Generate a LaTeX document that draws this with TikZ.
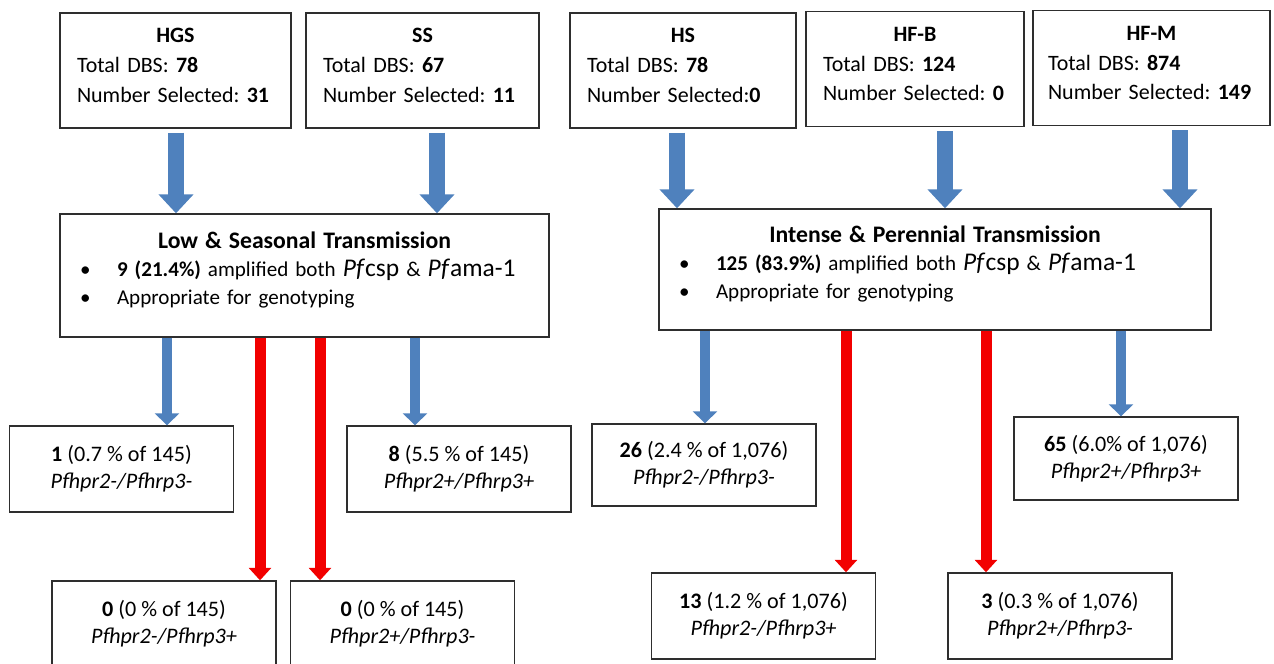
\documentclass[tikz,border=0pt]{standalone}
\usepackage{fontspec}
\setmainfont{Carlito}
\usetikzlibrary{arrows.meta}
\definecolor{flowblue}{HTML}{4F81BD}
\definecolor{flowred}{HTML}{F20000}
\definecolor{boxline}{HTML}{2E2E2E}
\frenchspacing
\newcommand{\pfgene}[1]{{\fontsize{14.5}{17}\selectfont\textit{Pf}#1}}
\newcommand{\blt}{\makebox[0.74cm][l]{\textbullet}}
\begin{document}
\begin{tikzpicture}[x=0.02cm, y=-0.02cm,
  every node/.style={font=\fontsize{12.5}{17}\selectfont},
  sitebox/.style={draw=boxline, line width=0.8pt, minimum height=2.3cm, inner xsep=0.34cm, align=left},
  zonebox/.style={draw=boxline, line width=0.8pt, inner xsep=0.4cm, align=left, font=\fontsize{12}{16}\selectfont},
  outbox/.style={draw=boxline, line width=0.8pt, minimum width=4.48cm, minimum height=1.72cm, align=center, font=\fontsize{12.6}{15.5}\selectfont},
  bigarr/.style={flowblue, line width=0.32cm, -{Triangle[width=0.68cm, length=0.38cm]}, shorten <=0.08cm},
  bluearr/.style={flowblue, line width=0.2cm, -{Triangle[width=0.48cm, length=0.24cm]}},
  redarr/.style={flowred, line width=0.22cm, -{Triangle[width=0.44cm, length=0.25cm]}}]
\useasboundingbox (0,0) rectangle (1274,663);
% sites:
\node[sitebox, text width=3.94cm] (hgs) at (175.5,70.5) {\makebox[3.94cm]{\bfseries HGS}\\Total DBS: \textbf{78}\\Number Selected: \textbf{31}\rule[-0.2cm]{0pt}{0pt}};
\node[sitebox, text width=3.98cm] (ss) at (422.5,70.5) {\makebox[3.98cm]{\bfseries SS}\\Total DBS: \textbf{67}\\Number Selected: \textbf{11}\rule[-0.2cm]{0pt}{0pt}};
\node[sitebox, text width=3.84cm] (hs) at (683,70.5) {\makebox[3.84cm]{\bfseries HS}\\Total DBS: \textbf{78}\\Number Selected:\textbf{0}\rule[-0.2cm]{0pt}{0pt}};
\node[sitebox, text width=3.68cm] (hfb) at (915,69) {\makebox[3.68cm]{\bfseries HF-B}\\Total DBS: \textbf{124}\\Number Selected: \textbf{0}\rule[-0.2cm]{0pt}{0pt}};
\node[sitebox, inner xsep=0.3cm, text width=4.14cm] (hfm) at (1151.5,68) {\makebox[4.14cm]{\bfseries HF-M}\\Total DBS: \textbf{874}\\Number Selected: \textbf{149}\rule[-0.2cm]{0pt}{0pt}};
% transmission zones:
\node[zonebox, text width=8.98cm, minimum height=2.46cm] (low) at (304.5,275.5)
  {\makebox[8.98cm]{\fontsize{13.5}{17}\selectfont\bfseries Low \& Seasonal Transmission}\\
   \blt\textbf{9 (21.4\%)} amplified both \pfgene{csp} \& \pfgene{ama-1}\\
   \blt Appropriate for genotyping\rule[-0.3cm]{0pt}{0pt}};
\node[zonebox, text width=10.24cm, minimum height=2.42cm] (ipt) at (935,269.5)
  {\makebox[10.24cm]{\fontsize{13.5}{17}\selectfont\bfseries Intense \& Perennial Transmission}\\
   \blt\textbf{125 (83.9\%)} amplified both \pfgene{csp} \& \pfgene{ama-1}\\
   \blt Appropriate for genotyping\rule[-0.3cm]{0pt}{0pt}};
% genotypes:
\node[outbox] (lowmm) at (121.5,469) {\textbf{1} (0.7 \% of 145)\\\textit{Pfhpr2-/Pfhrp3-}};
\node[outbox] (lowpp) at (459,469) {\textbf{8} (5.5 \% of 145)\\\textit{Pfhpr2+/Pfhrp3+}};
\node[outbox, minimum height=1.64cm] (iptmm) at (704,465) {\textbf{26} (2.4 \% of 1,076)\\\textit{Pfhpr2-/Pfhrp3-}};
\node[outbox, minimum height=1.66cm] (iptpp) at (1126,458.5) {\textbf{65} (6.0\% of 1,076)\\\textit{Pfhpr2+/Pfhrp3+}};
\node[outbox] (lowmp) at (164,624) {\textbf{0} (0 \% of 145)\\\textit{Pfhpr2-/Pfhrp3+}};
\node[outbox] (lowpm) at (402.5,624) {\textbf{0} (0 \% of 145)\\\textit{Pfhpr2+/Pfhrp3-}};
\node[outbox] (iptmp) at (763.5,616) {\textbf{13} (1.2 \% of 1,076)\\\textit{Pfhpr2-/Pfhrp3+}};
\node[outbox] (iptpm) at (1060,616) {\textbf{3} (0.3 \% of 1,076)\\\textit{Pfhpr2+/Pfhrp3-}};
% arrows into zones:
\draw[bigarr] (hgs.south -| 176,0) -- (low.north -| 176,0);
\draw[bigarr] (ss.south -| 437,0) -- (low.north -| 437,0);
\draw[bigarr] (hs.south -| 677,0) -- (ipt.north -| 677,0);
\draw[bigarr] (hfb.south -| 945,0) -- (ipt.north -| 945,0);
\draw[bigarr] (hfm.south -| 1180,0) -- (ipt.north -| 1180,0);
% arrows out of zones:
\draw[bluearr] (low.south -| 167,0) -- (lowmm.north -| 167,0);
\draw[redarr] (low.south -| 260,0) -- (lowmp.north -| 260,0);
\draw[redarr] (low.south -| 320,0) -- (lowpm.north -| 320,0);
\draw[bluearr] (low.south -| 415,0) -- (lowpp.north -| 415,0);
\draw[bluearr] (ipt.south -| 705,0) -- (iptmm.north -| 705,0);
\draw[redarr] (ipt.south -| 846,0) -- (iptmp.north -| 846,0);
\draw[redarr] (ipt.south -| 986,0) -- (iptpm.north -| 986,0);
\draw[bluearr] (ipt.south -| 1121,0) -- (iptpp.north -| 1121,0);
\end{tikzpicture}
\end{document}
